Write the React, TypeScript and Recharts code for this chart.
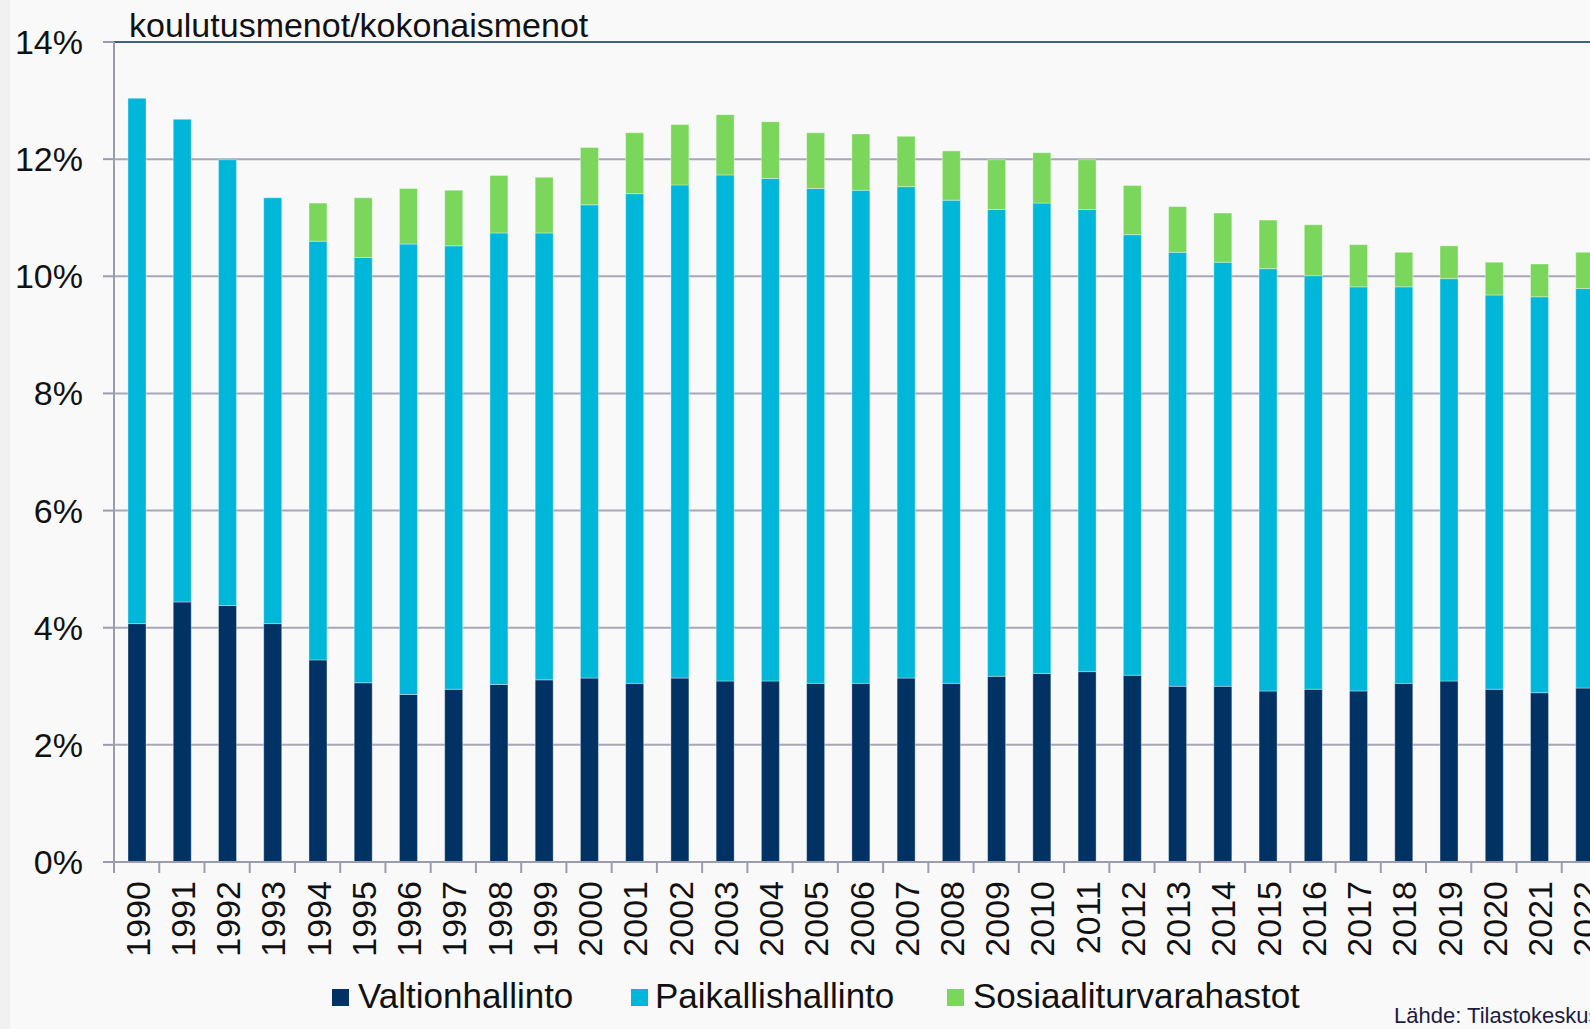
import React from "react";
import { BarChart, Bar, XAxis, YAxis, CartesianGrid, ReferenceLine } from "recharts";

// koulutusmenot / kokonaismenot, % by sector
const years = [
  "1990", "1991", "1992", "1993", "1994", "1995", "1996", "1997", "1998", "1999",
  "2000", "2001", "2002", "2003", "2004", "2005", "2006", "2007", "2008", "2009",
  "2010", "2011", "2012", "2013", "2014", "2015", "2016", "2017", "2018", "2019",
  "2020", "2021", "2022",
];

const valtionhallinto = [
  4.07, 4.44, 4.38, 4.07, 3.45, 3.06, 2.86, 2.95, 3.03, 3.11,
  3.14, 3.05, 3.14, 3.09, 3.09, 3.05, 3.05, 3.14, 3.05, 3.17,
  3.22, 3.25, 3.19, 3.0, 3.0, 2.92, 2.95, 2.92, 3.05, 3.09,
  2.95, 2.89, 2.97,
];

const paikallishallinto = [
  8.97, 8.24, 7.61, 7.27, 7.15, 7.26, 7.69, 7.57, 7.71, 7.63,
  8.08, 8.36, 8.42, 8.64, 8.58, 8.45, 8.42, 8.39, 8.25, 7.97,
  8.03, 7.89, 7.52, 7.41, 7.24, 7.21, 7.06, 6.9, 6.77, 6.87,
  6.73, 6.76, 6.82,
];

const sosiaaliturvarahastot = [
  0, 0, 0, 0, 0.65, 1.02, 0.95, 0.95, 0.98, 0.95,
  0.98, 1.04, 1.03, 1.03, 0.97, 0.95, 0.96, 0.86, 0.84, 0.85,
  0.86, 0.85, 0.84, 0.78, 0.84, 0.83, 0.87, 0.72, 0.59, 0.56,
  0.56, 0.56, 0.62,
];

const yTicks = [0, 2, 4, 6, 8, 10, 12, 14];

const legendItems = [
  { name: "Valtionhallinto", color: "#003264", box: 332, text: 358 },
  { name: "Paikallishallinto", color: "#00b6d9", box: 631, text: 655 },
  { name: "Sosiaaliturvarahastot", color: "#7bd65c", box: 947, text: 973 },
];

const data = years.map((year, i) => ({
  year,
  valtio: valtionhallinto[i],
  paikallis: paikallishallinto[i],
  sosiaali: sosiaaliturvarahastot[i],
}));

const CHART_W = 1640;
const CHART_H = 1029;
const LEFT = 114;
const PLOT_W = 1493;
const BAND = PLOT_W / years.length;
const FONT = "'Liberation Sans', Arial, sans-serif";
const GRID = "#a7a7b9";
const AXIS = "#9c9cb1";

function YearTick(props: any) {
  const { x, y, payload } = props;
  return (
    <g transform={`translate(${x},${y})`}>
      <line x1={-BAND / 2} y1={0} x2={-BAND / 2} y2={11} stroke={AXIS} strokeWidth={2} />
      <text
        x={-19}
        y={1}
        transform="rotate(-90)"
        textAnchor="end"
        dominantBaseline="central"
        fontSize={34}
        fontFamily={FONT}
        fill="#111"
      >
        {payload.value}
      </text>
    </g>
  );
}

export default function App() {
  return (
    <div
      style={{
        position: "fixed",
        left: 0,
        top: 0,
        width: 1590,
        height: 1029,
        overflow: "hidden",
        background: "#f9f9f9",
      }}
    >
      <div style={{ position: "absolute", left: 0, top: 0, width: 10, height: 1029, background: "#f1f1f1" }} />
      <div style={{ position: "absolute", left: 0, top: 0 }}>
        <BarChart
          width={CHART_W}
          height={CHART_H}
          data={data}
          margin={{ top: 42, right: CHART_W - LEFT - PLOT_W, bottom: 0, left: 0 }}
          barSize={18}
        >
          <CartesianGrid vertical={false} stroke={GRID} strokeWidth={2} />
          <XAxis
            dataKey="year"
            height={167}
            interval={0}
            tickSize={0}
            tickMargin={0}
            tickLine={false}
            axisLine={{ stroke: AXIS, strokeWidth: 2 }}
            tick={<YearTick />}
          />
          <YAxis
            width={LEFT}
            domain={[0, 14]}
            ticks={yTicks}
            tickFormatter={(v: number) => `${v}%`}
            tickSize={11}
            tickMargin={20}
            tickLine={{ stroke: AXIS, strokeWidth: 2 }}
            axisLine={{ stroke: AXIS, strokeWidth: 2 }}
            tick={{ fontSize: 34, fontFamily: FONT, fill: "#111" }}
          />
          <Bar dataKey="valtio" stackId="a" fill="#003264" stroke="#ffffff" strokeOpacity={0.35} strokeWidth={1} isAnimationActive={false} />
          <Bar dataKey="paikallis" stackId="a" fill="#00b6d9" stroke="#ffffff" strokeOpacity={0.35} strokeWidth={1} isAnimationActive={false} />
          <Bar dataKey="sosiaali" stackId="a" fill="#7bd65c" stroke="#ffffff" strokeOpacity={0.35} strokeWidth={1} isAnimationActive={false} />
          <ReferenceLine y={14} stroke="#3f5f88" strokeWidth={2} />
        </BarChart>
      </div>
      <svg
        width={1590}
        height={1029}
        style={{ position: "absolute", left: 0, top: 0, pointerEvents: "none" }}
        fontFamily={FONT}
      >
        <text x={129} y={37} fontSize={34} fill="#111">
          koulutusmenot/kokonaismenot
        </text>
        {legendItems.map((item) => (
          <g key={item.name}>
            <rect x={item.box} y={989} width={17} height={17} fill={item.color} />
            <text x={item.text} y={1008} fontSize={35} fill="#111">
              {item.name}
            </text>
          </g>
        ))}
        <text x={1394} y={1023} fontSize={22} fill="#1c1c40">
          Lähde: Tilastokeskus
        </text>
      </svg>
    </div>
  );
}
